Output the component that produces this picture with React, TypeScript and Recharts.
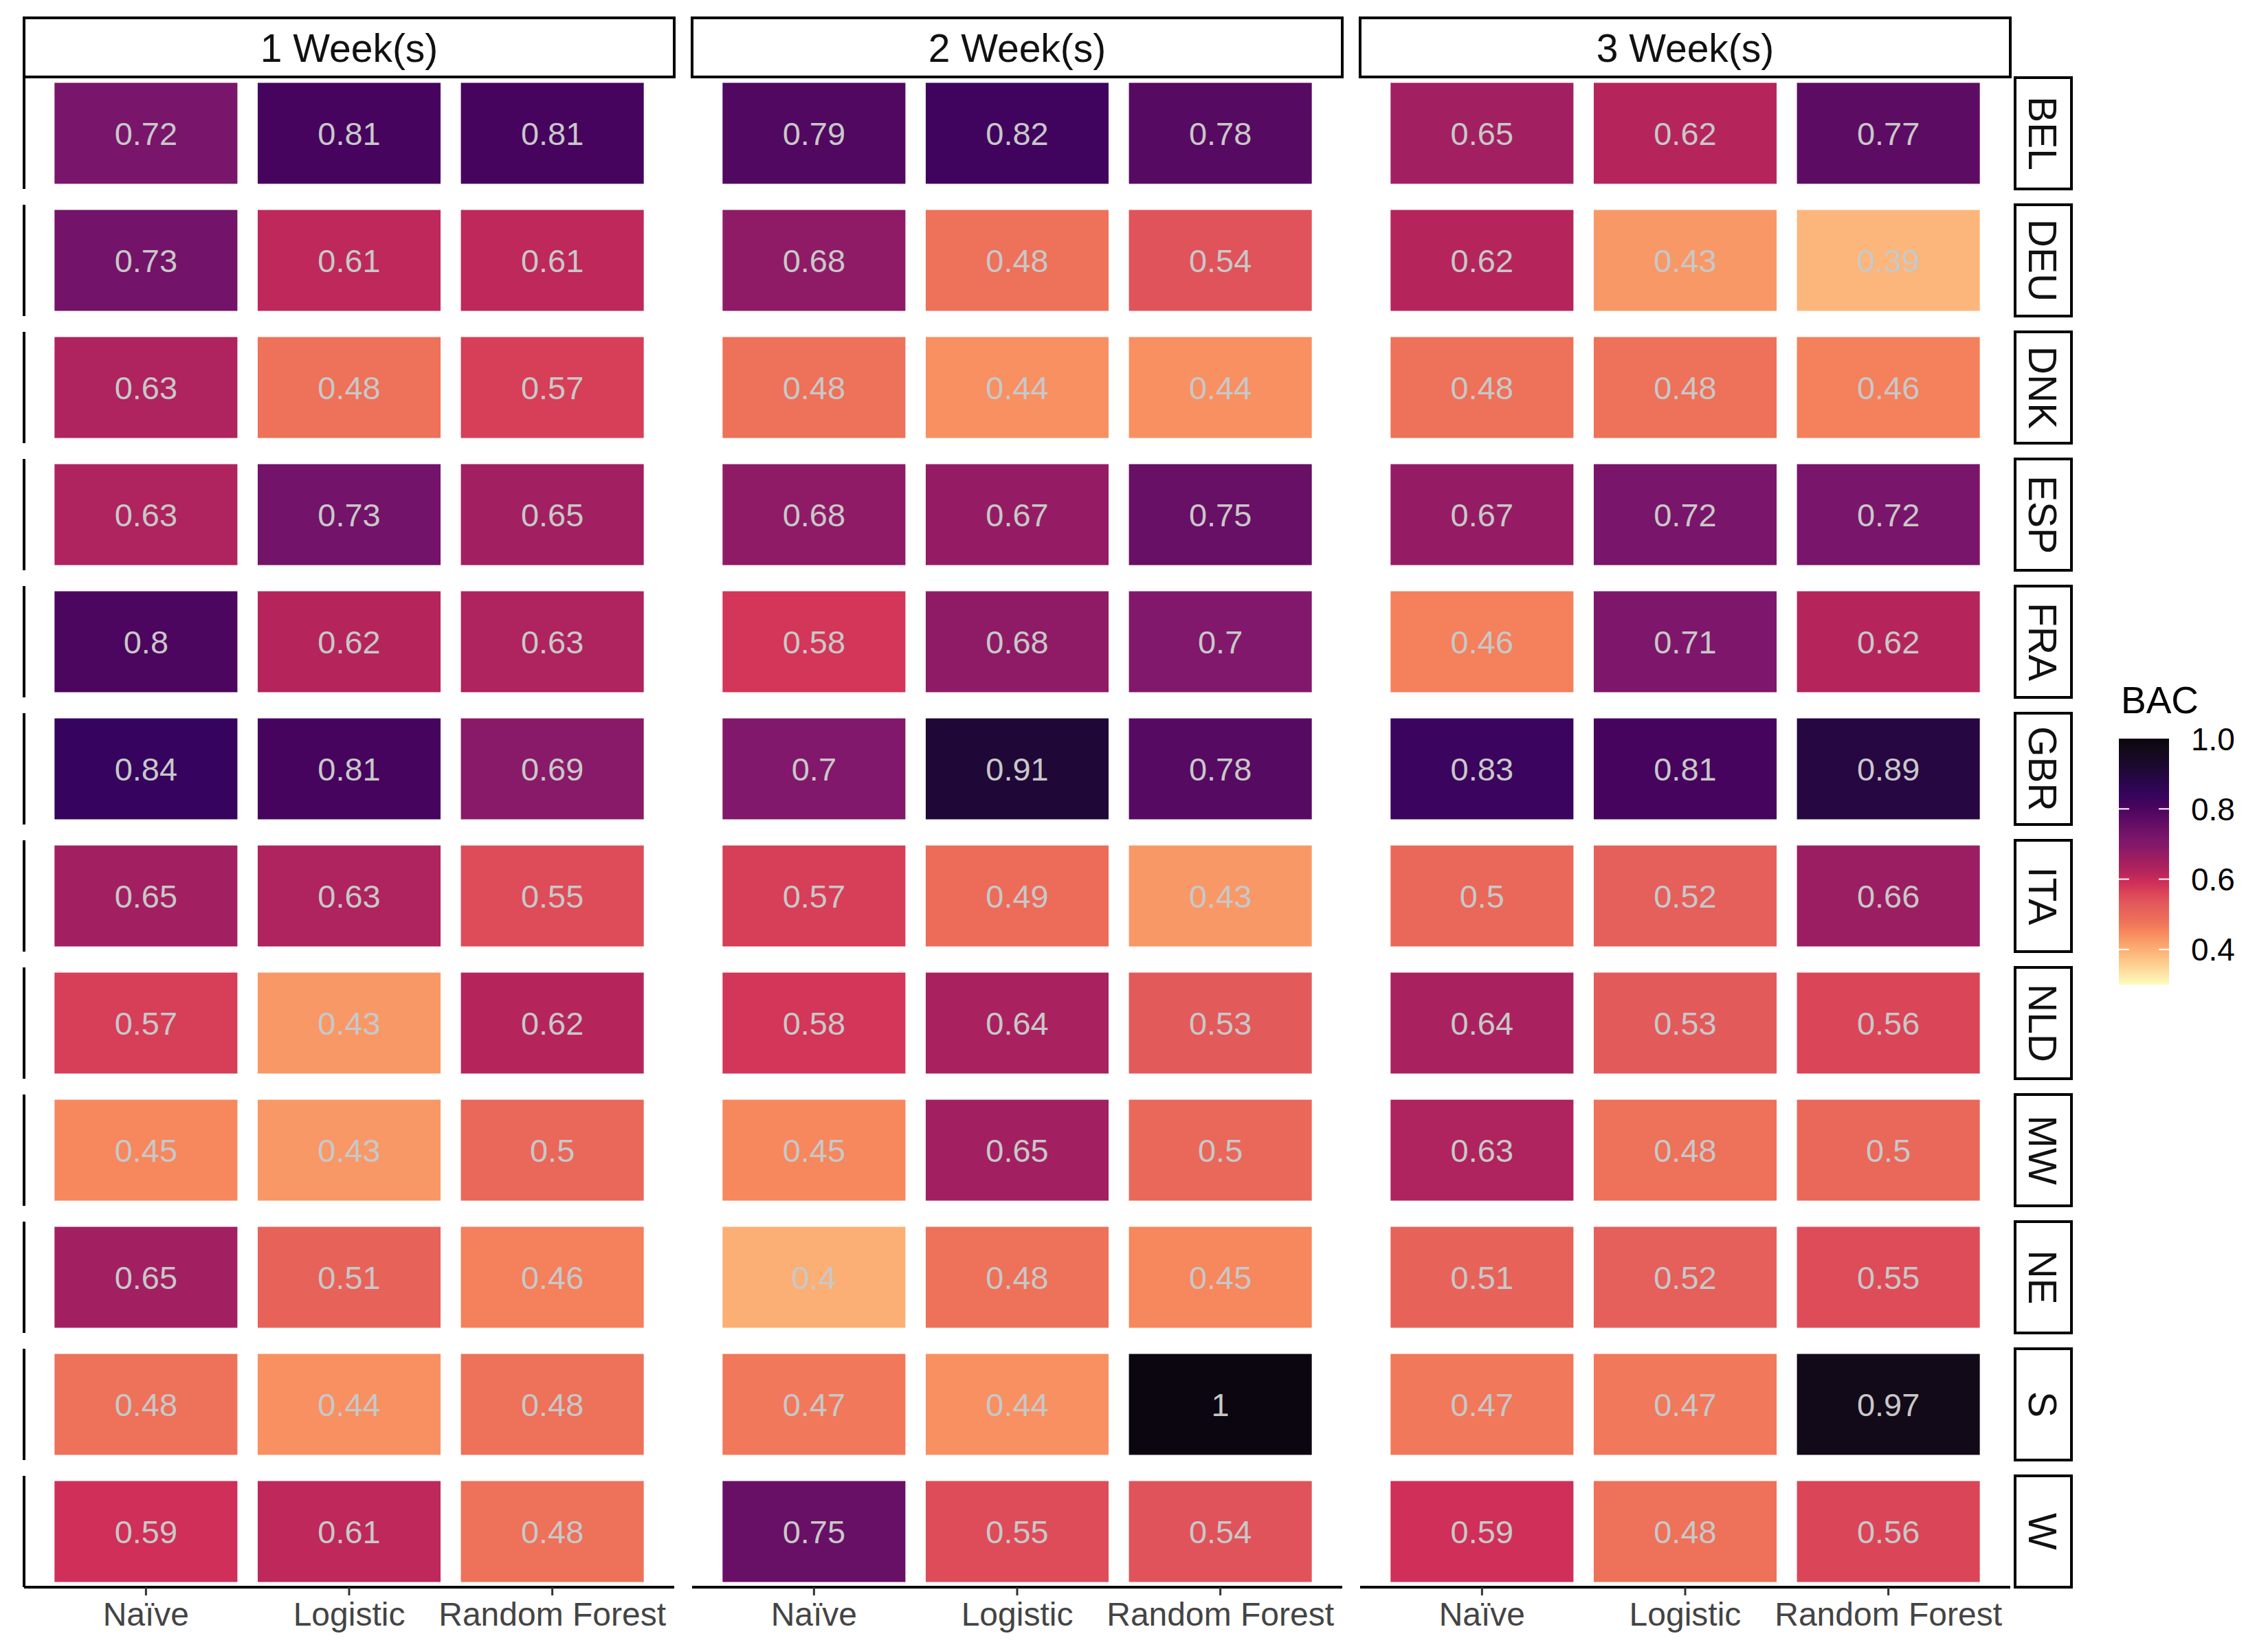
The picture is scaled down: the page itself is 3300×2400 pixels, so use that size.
import React from "react";
import { ScatterChart, Scatter, XAxis, YAxis, ReferenceLine } from "recharts";

const WEEKS = ["1 Week(s)", "2 Week(s)", "3 Week(s)"];
const MODELS = ["Naïve", "Logistic", "Random Forest"];
const REGIONS = ["BEL", "DEU", "DNK", "ESP", "FRA", "GBR", "ITA", "NLD", "MW", "NE", "S", "W"];

// BAC per region, columns: Naïve, Logistic, Random Forest
const BAC_WEEK1 = [
  [0.72, 0.81, 0.81],
  [0.73, 0.61, 0.61],
  [0.63, 0.48, 0.57],
  [0.63, 0.73, 0.65],
  [0.8, 0.62, 0.63],
  [0.84, 0.81, 0.69],
  [0.65, 0.63, 0.55],
  [0.57, 0.43, 0.62],
  [0.45, 0.43, 0.5],
  [0.65, 0.51, 0.46],
  [0.48, 0.44, 0.48],
  [0.59, 0.61, 0.48],
];
const BAC_WEEK2 = [
  [0.79, 0.82, 0.78],
  [0.68, 0.48, 0.54],
  [0.48, 0.44, 0.44],
  [0.68, 0.67, 0.75],
  [0.58, 0.68, 0.7],
  [0.7, 0.91, 0.78],
  [0.57, 0.49, 0.43],
  [0.58, 0.64, 0.53],
  [0.45, 0.65, 0.5],
  [0.4, 0.48, 0.45],
  [0.47, 0.44, 1],
  [0.75, 0.55, 0.54],
];
const BAC_WEEK3 = [
  [0.65, 0.62, 0.77],
  [0.62, 0.43, 0.39],
  [0.48, 0.48, 0.46],
  [0.67, 0.72, 0.72],
  [0.46, 0.71, 0.62],
  [0.83, 0.81, 0.89],
  [0.5, 0.52, 0.66],
  [0.64, 0.53, 0.56],
  [0.63, 0.48, 0.5],
  [0.51, 0.52, 0.55],
  [0.47, 0.47, 0.97],
  [0.59, 0.48, 0.56],
];
const BAC_BY_WEEK = [BAC_WEEK1, BAC_WEEK2, BAC_WEEK3];

const LEGEND_TICKS = [1.0, 0.8, 0.6, 0.4];
const FILL_LIMITS = [0.3, 1.0];

// colour ramp (value -> colour)
const RAMP: [number, string][] = [
  [0.3, "#FCFDBF"],
  [0.35, "#FDD495"],
  [0.4, "#FCAF74"],
  [0.43, "#F99867"],
  [0.45, "#F7875D"],
  [0.48, "#EE7159"],
  [0.53, "#E35A5B"],
  [0.56, "#DB4558"],
  [0.59, "#CF2F58"],
  [0.62, "#B5255C"],
  [0.66, "#9C1E62"],
  [0.7, "#82186B"],
  [0.72, "#79156A"],
  [0.81, "#46045E"],
  [0.84, "#36045E"],
  [0.91, "#1F0837"],
  [0.97, "#120A18"],
  [1.0, "#0B0610"],
];

function hex(c: string) {
  return [1, 3, 5].map((i) => parseInt(c.slice(i, i + 2), 16));
}
function fillFor(v: number) {
  if (v <= RAMP[0][0]) return RAMP[0][1];
  for (let i = 1; i < RAMP.length; i++) {
    if (v <= RAMP[i][0]) {
      const [v0, c0] = RAMP[i - 1];
      const [v1, c1] = RAMP[i];
      const t = (v - v0) / (v1 - v0);
      const a = hex(c0);
      const b = hex(c1);
      return `rgb(${a.map((x, k) => Math.round(x + (b[k] - x) * t)).join(",")})`;
    }
  }
  return RAMP[RAMP.length - 1][1];
}

// layout
const W = 3300;
const H = 2400;
const PLOT_L = 35;
const PLOT_T = 113;
const PLOT_R = 2925;
const PLOT_B = 2310;
const FONT = "'Liberation Sans', Arial, Helvetica, sans-serif";

const PANEL_U = 3.2;
const GAP_U = 26 / 296;
const X_MAX = 3 * PANEL_U + 2 * GAP_U;
const PX_X = (PLOT_R - PLOT_L) / X_MAX;
const PANEL_H_U = 162 / 185;
const Y_MAX = REGIONS.length - 1 + PANEL_H_U;
const PX_Y = (PLOT_B - PLOT_T) / Y_MAX;
const TILE_W = 0.9 * PX_X;
const TILE_H = 0.907 * PANEL_H_U * PX_Y;

const panelStart = (w: number) => w * (PANEL_U + GAP_U);

const points = BAC_BY_WEEK.flatMap((rows, w) =>
  rows.flatMap((vals, r) =>
    vals.map((value, m) => ({
      x: panelStart(w) + 0.6 + m,
      y: r + PANEL_H_U / 2,
      value,
    }))
  )
);

const X_TICKS = WEEKS.flatMap((_, w) => MODELS.map((_, m) => panelStart(w) + 0.6 + m));

const Tile = (props: any) => {
  const { cx, cy, payload } = props;
  return (
    <g>
      <rect x={cx - TILE_W / 2} y={cy - TILE_H / 2} width={TILE_W} height={TILE_H} fill={fillFor(payload.value)} />
      <text x={cx} y={cy} dy="0.36em" textAnchor="middle" fontSize={47} fill="#C8C8C8" fontFamily={FONT}>
        {String(payload.value)}
      </text>
    </g>
  );
};

export default function App() {
  const legendTop = 1075;
  const legendBottom = 1433;
  const legY = (v: number) => legendTop + ((FILL_LIMITS[1] - v) / (FILL_LIMITS[1] - FILL_LIMITS[0])) * (legendBottom - legendTop);
  const gradStops = [...RAMP].reverse();

  return (
    <div style={{ position: "absolute", left: 0, top: 0, width: W, height: H, background: "#fff" }}>
      <ScatterChart width={W} height={H} margin={{ left: PLOT_L, top: PLOT_T, right: W - PLOT_R, bottom: 0 }}>
        <XAxis
          type="number"
          dataKey="x"
          domain={[0, X_MAX]}
          ticks={X_TICKS}
          interval={0}
          height={H - PLOT_B}
          axisLine={false}
          tickSize={12}
          tickMargin={10}
          tickLine={{ stroke: "#333", strokeWidth: 3 }}
          tick={{ fontSize: 48, fill: "#444", fontFamily: FONT }}
          tickFormatter={(_: any, i: number) => MODELS[i % 3]}
        />
        <YAxis type="number" dataKey="y" domain={[0, Y_MAX]} reversed hide width={0} />
        {WEEKS.map((_, w) => (
          <ReferenceLine
            key={"b" + w}
            ifOverflow="visible"
            stroke="#000"
            strokeWidth={4}
            segment={[
              { x: panelStart(w), y: Y_MAX },
              { x: panelStart(w) + PANEL_U, y: Y_MAX },
            ]}
          />
        ))}
        {REGIONS.map((_, r) => (
          <ReferenceLine
            key={"l" + r}
            ifOverflow="visible"
            stroke="#000"
            strokeWidth={4}
            segment={[
              { x: 0, y: r },
              { x: 0, y: r + PANEL_H_U },
            ]}
          />
        ))}
        <Scatter data={points} shape={Tile} isAnimationActive={false} />
      </ScatterChart>

      <svg width={W} height={H} style={{ position: "absolute", left: 0, top: 0, pointerEvents: "none" }}>
        <defs>
          <linearGradient id="bac" x1="0" y1="0" x2="0" y2="1">
            {gradStops.map(([v, c]) => (
              <stop key={v} offset={(FILL_LIMITS[1] - v) / (FILL_LIMITS[1] - FILL_LIMITS[0])} stopColor={c} />
            ))}
          </linearGradient>
        </defs>
        {WEEKS.map((label, w) => {
          const x0 = PLOT_L + panelStart(w) * PX_X;
          return (
            <g key={label}>
              <rect x={x0} y={26} width={PANEL_U * PX_X} height={86} fill="#fff" stroke="#000" strokeWidth={4} />
              <text x={x0 + (PANEL_U * PX_X) / 2} y={69} dy="0.36em" textAnchor="middle" fontSize={57} fill="#111" fontFamily={FONT}>
                {label}
              </text>
            </g>
          );
        })}
        {REGIONS.map((label, r) => {
          const y0 = PLOT_T + r * PX_Y;
          const h = PANEL_H_U * PX_Y;
          return (
            <g key={label}>
              <rect x={2932} y={y0} width={82} height={h} fill="#fff" stroke="#000" strokeWidth={4} />
              <text
                transform={`translate(${2973},${y0 + h / 2}) rotate(90)`}
                dy="0.36em"
                textAnchor="middle"
                fontSize={57}
                fill="#111"
                fontFamily={FONT}
              >
                {label}
              </text>
            </g>
          );
        })}
        <text x={3086} y={1038} fontSize={55} fill="#000" fontFamily={FONT}>
          BAC
        </text>
        <rect x={3083} y={legendTop} width={73} height={legendBottom - legendTop} fill="url(#bac)" />
        {LEGEND_TICKS.map((t) => (
          <g key={t}>
            {t < 1 && (
              <>
                <line x1={3083} x2={3098} y1={legY(t)} y2={legY(t)} stroke="#fff" strokeWidth={2} />
                <line x1={3141} x2={3156} y1={legY(t)} y2={legY(t)} stroke="#fff" strokeWidth={2} />
              </>
            )}
            <text x={3188} y={legY(t)} dy="0.36em" fontSize={46} fill="#000" fontFamily={FONT}>
              {t.toFixed(1)}
            </text>
          </g>
        ))}
      </svg>
    </div>
  );
}
